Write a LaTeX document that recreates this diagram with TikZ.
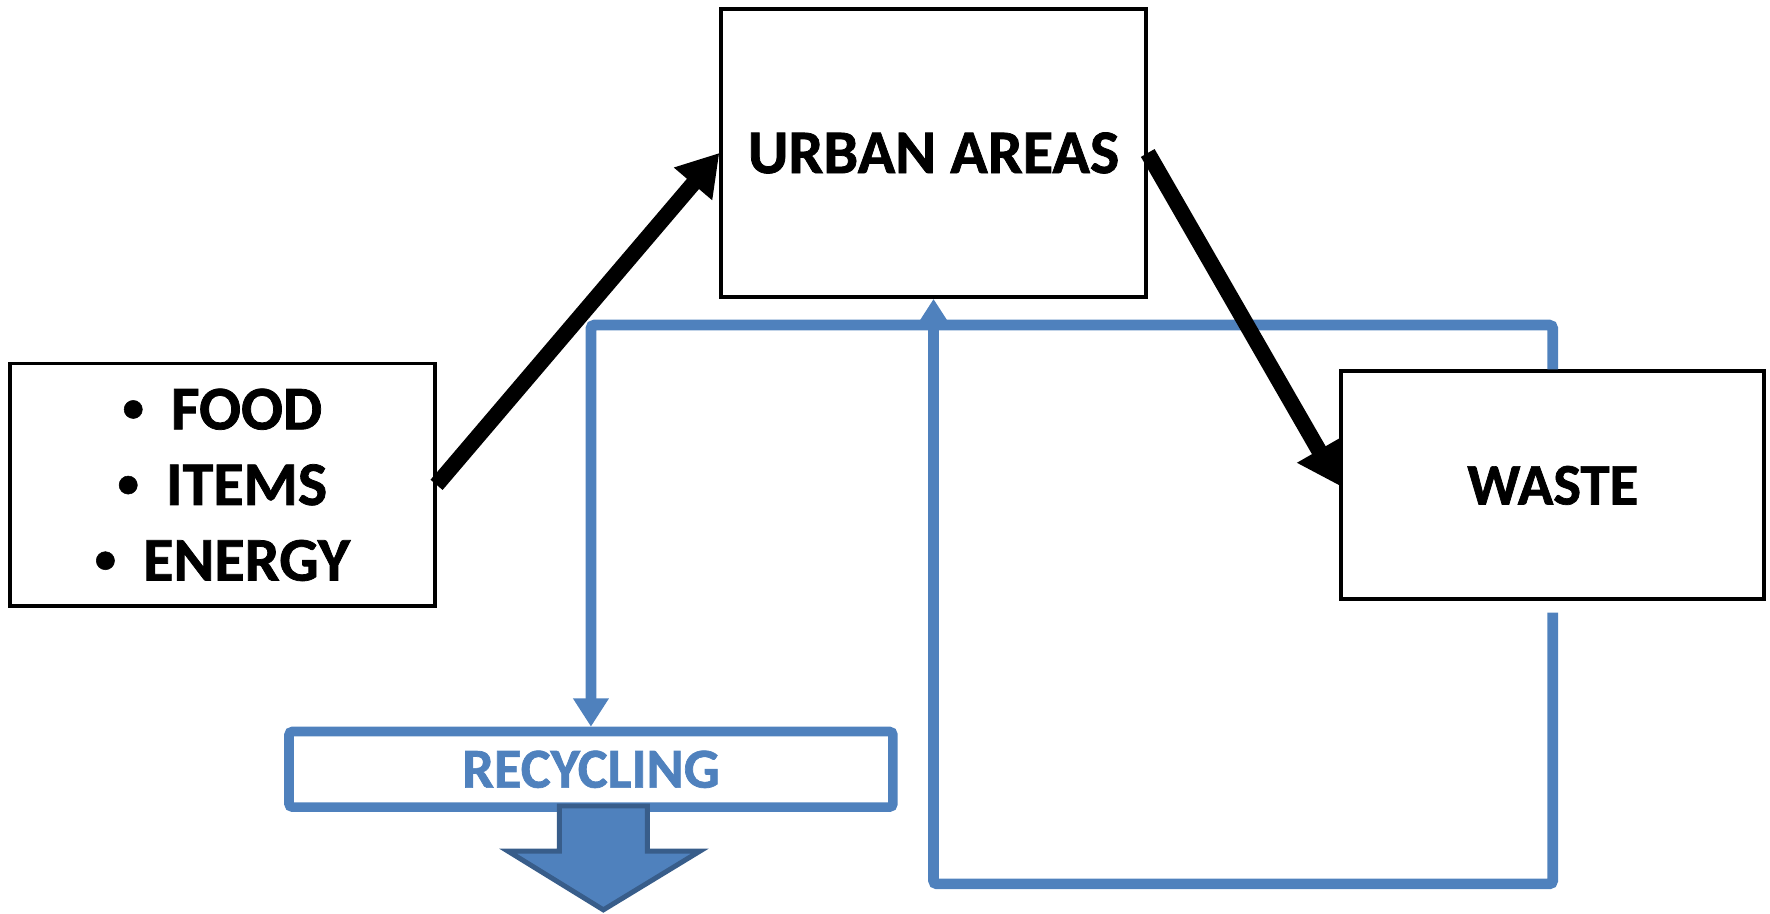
\documentclass[tikz,border=0pt]{standalone}
\usepackage{fontspec}
\setmainfont{Carlito}[BoldFont={Carlito Bold},BoldFeatures={FakeBold=1.2}]
\usepackage{xcolor}
\usetikzlibrary{calc}
\usetikzlibrary{arrows.meta}
\definecolor{flowblue}{HTML}{4F81BD}
\definecolor{flowedge}{HTML}{385D8A}
\newcommand{\dotitem}{{\fontsize{38}{38}\selectfont\raisebox{7pt}{\textbullet}}\hspace{24pt}}

\begin{document}
\begin{tikzpicture}[x=1pt,y=-1pt,
    box/.style={draw=black,line width=3.5pt,inner sep=0pt,align=center},
    blackarrow/.style={line width=14pt,-{Triangle[length=36pt,width=42pt]}},
    blueline/.style={draw=flowblue,line width=9.5pt,rounded corners=3pt,-{Triangle[length=25pt,width=30pt]}}]

\useasboundingbox (0,0) rectangle (1568,809);

% boxes
\node[box,minimum width=376pt,minimum height=255pt,font=\bfseries\fontsize{55}{60}\selectfont] (urban) at (827,135.5) {URBAN AREAS};
\node[box,minimum width=376pt,minimum height=215pt,font=\bfseries\fontsize{55}{67}\selectfont] (inputs) at (197,429.5)
    {\dotitem FOOD\\ \dotitem ITEMS\\ \dotitem ENERGY};
\node[box,minimum width=375pt,minimum height=202pt,font=\bfseries\fontsize{52}{60}\selectfont] (waste) at (1375.5,430) {WASTE};
\node[box,draw=flowblue,line width=8.5pt,rounded corners=3pt,minimum width=535pt,minimum height=67pt,
    text=flowblue,font=\bfseries\fontsize{50}{60}\selectfont] (recycling) at (523.5,681.5) {RECYCLING};

\coordinate (topbus) at (0,288);
\coordinate (lowbus) at (0,783);

% blue loops
\draw[blueline] (waste.north) -- (waste.north |- topbus) -- (recycling.north |- topbus) -- (recycling.north);
\draw[blueline] ($(waste.south)+(0,10)$) -- (waste.south |- lowbus) -- (urban.south |- lowbus) -- (urban.south);

% black arrows
\draw[blackarrow] (inputs.east) -- (urban.west);
\draw[blackarrow] (urban.east) -- (waste.west);

% outflow arrow
\filldraw[fill=flowblue,draw=flowedge,line width=4.4pt]
    (495.5,714) -- (573.5,714) -- (573.5,754) -- (620,754) -- (534.5,806) -- (450,754) -- (495.5,754) -- cycle;

\end{tikzpicture}
\end{document}
